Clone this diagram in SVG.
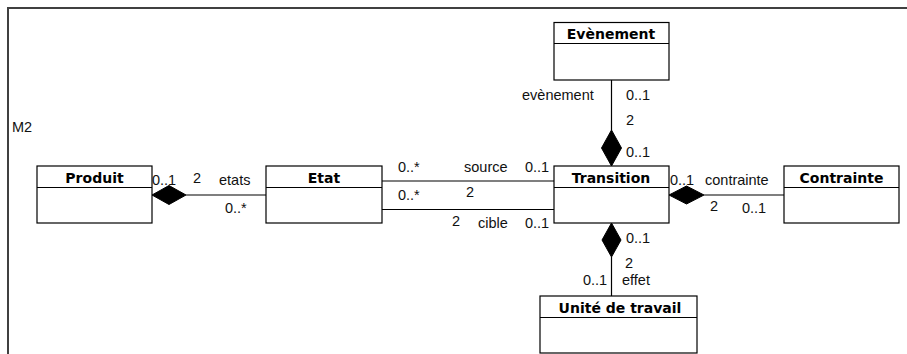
<svg xmlns="http://www.w3.org/2000/svg" width="907" height="354" viewBox="0 0 907 354">
<style>
.box{fill:#fff;stroke:#000;stroke-width:1.2}
.div{stroke:#000;stroke-width:1.2}
.title{font-family:"DejaVu Sans",sans-serif;font-weight:bold;font-size:14px;fill:#000;text-anchor:middle}
.lbl{font-family:"Liberation Sans",Arial,sans-serif;font-size:14.5px;fill:#111}
.ln{stroke:#000;stroke-width:1.2;fill:none}
.dia{fill:#000;stroke:#000;stroke-width:1}
</style>
<rect width="907" height="354" fill="#fff"/>
<path d="M8,354 V8 H907" fill="none" stroke="#404040" stroke-width="2"/>
<text class="lbl" x="12" y="132">M2</text>
<g id="connectors">
<line class="ln" x1="186" y1="195" x2="266" y2="195"/>
<polygon class="dia" points="152,195 169,185.5 186,195 169,204.5"/>
<line class="ln" x1="382" y1="181" x2="554" y2="181"/>
<line class="ln" x1="382" y1="209.5" x2="554" y2="209.5"/>
<line class="ln" x1="611.5" y1="80" x2="611.5" y2="130"/>
<polygon class="dia" points="611.5,166 621.5,148 611.5,130 601.5,148"/>
<line class="ln" x1="704" y1="195" x2="784" y2="195"/>
<polygon class="dia" points="669,195 686.5,186 704,195 686.5,204"/>
<line class="ln" x1="611.5" y1="257" x2="611.5" y2="296"/>
<polygon class="dia" points="611.5,223 621,240 611.5,257 602,240"/>
<text class="lbl" x="152" y="185">0..1</text>
<text class="lbl" x="193" y="183">2</text>
<text class="lbl" x="219" y="185">etats</text>
<text class="lbl" x="225" y="213">0..*</text>
<text class="lbl" x="398" y="172">0..*</text>
<text class="lbl" x="464" y="172">source</text>
<text class="lbl" x="525" y="172">0..1</text>
<text class="lbl" x="398" y="200">0..*</text>
<text class="lbl" x="466" y="197">2</text>
<text class="lbl" x="452" y="226">2</text>
<text class="lbl" x="478" y="228">cible</text>
<text class="lbl" x="525" y="228">0..1</text>
<text class="lbl" x="522" y="100">evènement</text>
<text class="lbl" x="626" y="100">0..1</text>
<text class="lbl" x="626" y="125">2</text>
<text class="lbl" x="626" y="157">0..1</text>
<text class="lbl" x="670" y="185">0..1</text>
<text class="lbl" x="705" y="185">contrainte</text>
<text class="lbl" x="710" y="211">2</text>
<text class="lbl" x="742" y="213">0..1</text>
<text class="lbl" x="626" y="243">0..1</text>
<text class="lbl" x="625" y="268">2</text>
<text class="lbl" x="583" y="285">0..1</text>
<text class="lbl" x="622" y="285">effet</text>
</g>
<g id="produit">
<rect class="box" x="37" y="166" width="115" height="57"/>
<line class="div" x1="37" y1="187.5" x2="152" y2="187.5"/>
<text class="title" x="94.5" y="182.5">Produit</text>
</g>
<g id="etat">
<rect class="box" x="266" y="166" width="116" height="57"/>
<line class="div" x1="266" y1="187.5" x2="382" y2="187.5"/>
<text class="title" x="324" y="182.5">Etat</text>
</g>
<g id="transition">
<rect class="box" x="554" y="166" width="115" height="57"/>
<line class="div" x1="554" y1="187.5" x2="669" y2="187.5"/>
<text class="title" x="611" y="182.5">Transition</text>
</g>
<g id="contrainte">
<rect class="box" x="784" y="166" width="115" height="57"/>
<line class="div" x1="784" y1="187.5" x2="899" y2="187.5"/>
<text class="title" x="841.5" y="182.5">Contrainte</text>
</g>
<g id="evenement">
<rect class="box" x="554" y="22.5" width="115" height="57.5"/>
<line class="div" x1="554" y1="43.5" x2="669" y2="43.5"/>
<text class="title" x="611" y="39">Evènement</text>
</g>
<g id="unite">
<rect class="box" x="540" y="296" width="157" height="57"/>
<line class="div" x1="540" y1="317.5" x2="697" y2="317.5"/>
<text class="title" x="620" y="313">Unité de travail</text>
</g>
</svg>
